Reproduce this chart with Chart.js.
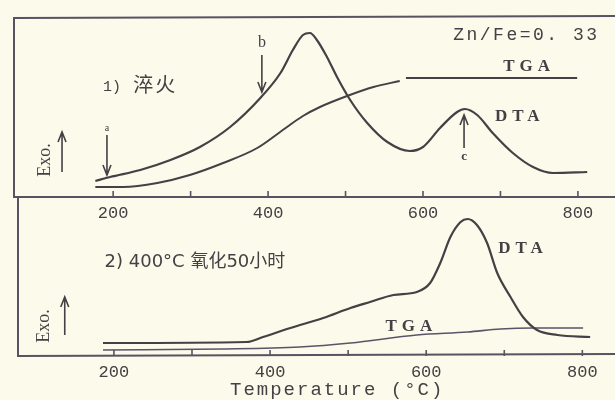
<!DOCTYPE html>
<html>
<head>
<meta charset="utf-8">
<script src="https://cdn.jsdelivr.net/npm/chart.js@4.4.0/dist/chart.umd.min.js"></script>
<style>
  html, body { margin: 0; padding: 0; background: #fcfaea; }
  #wrap { position: relative; width: 615px; height: 400px; overflow: hidden; }
  canvas { position: absolute; left: 0; }
  #top-chart { top: 0; }
  #bottom-chart { top: 197px; }
</style>
</head>
<body>
<div id="wrap">
  <canvas id="top-chart" width="615" height="225"></canvas>
  <canvas id="bottom-chart" width="615" height="203"></canvas>
</div>
<script>
// tick labels and small tick marks (deg C)
const xLabels = [200, 400, 600, 800];
const tickMarks = [200, 300, 400, 500, 600, 700, 800];

// 1) quenched sample
const topDtaT = [177, 196, 235, 274, 312, 351, 390, 416, 432, 445, 454, 463, 476, 489, 506, 528, 554, 583, 600, 622, 644, 654, 670, 690, 716, 742, 768, 812];
const topDtaV = [16, 20, 27, 37, 50, 70, 99, 124, 147, 162, 164, 157, 140, 120, 97, 74, 55, 46, 50, 69, 85, 88, 82, 64, 44, 30, 24, 25];
// null = small break in the trace
const topTgaT = [177, 213, 257, 299, 342, 386, 419, 445, 467, 502, 536, 570, 574, 578, 799];
const topTgaV = [10, 10, 14, 22, 34, 49, 67, 81, 90, 101, 110, 116, null, 119, 119];

// 2) oxidised 50 h at 400 C
const botDtaT = [186, 370, 391, 426, 468, 503, 528, 558, 588, 605, 618, 631, 644, 653, 665, 678, 691, 708, 724, 742, 768, 810];
const botDtaV = [13, 14, 19, 28, 38, 48, 54, 61, 64, 73, 93, 119, 134, 137, 131, 113, 83, 59, 39, 26, 21, 19];
const botTgaT = [186, 340, 438, 503, 588, 653, 695, 737, 801];
const botTgaV = [6, 7, 9, 13, 21, 24, 27, 28, 28];

const INK = '#454045';
const FRAME = '#5a5262';
const MONO = '"Liberation Mono", monospace';
const SERIF = '"Liberation Serif", serif';
const CJK = '"DejaVu Sans", "Noto Sans CJK SC", sans-serif';

function pts(ts, vs){ return ts.map((t, i) => ({ x: t, y: vs[i] })); }

function lineSet(ts, vs, width, color){
  return {
    data: pts(ts, vs),
    borderColor: color || INK,
    borderWidth: width,
    pointRadius: 0,
    fill: false,
    spanGaps: false,
    cubicInterpolationMode: 'monotone'
  };
}

function xy(chart, t, v){
  return [chart.scales.x.getPixelForValue(t), chart.scales.y.getPixelForValue(v)];
}

function label(chart, t, v, str, font, align, spacing){
  const ctx = chart.ctx;
  const [x, y] = xy(chart, t, v);
  ctx.save();
  ctx.font = font;
  ctx.fillStyle = INK;
  ctx.textAlign = align || 'left';
  ctx.textBaseline = 'middle';
  ctx.letterSpacing = (spacing || 0) + 'px';
  ctx.fillText(str, x, y);
  ctx.restore();
}

function exo(chart, t, v){
  const ctx = chart.ctx;
  const [x, y] = xy(chart, t, v);
  ctx.save();
  ctx.translate(x, y);
  ctx.rotate(-Math.PI / 2);
  ctx.font = '18px ' + SERIF;
  ctx.fillStyle = INK;
  ctx.textAlign = 'center';
  ctx.textBaseline = 'middle';
  ctx.fillText('Exo.', 0, 0);
  ctx.restore();
}

// vertical arrow from v1 to v2, head at v2
function arrow(chart, t, v1, v2){
  const ctx = chart.ctx;
  const [x, y1] = xy(chart, t, v1);
  const y2 = chart.scales.y.getPixelForValue(v2);
  const dir = y2 > y1 ? 1 : -1;
  ctx.save();
  ctx.strokeStyle = INK;
  ctx.lineWidth = 1.6;
  ctx.beginPath();
  ctx.moveTo(x, y1); ctx.lineTo(x, y2);
  ctx.moveTo(x - 4, y2 - dir * 10); ctx.lineTo(x, y2); ctx.lineTo(x + 4, y2 - dir * 10);
  ctx.stroke();
  ctx.restore();
}

function drawTicks(chart){
  const ctx = chart.ctx;
  const a = chart.chartArea;
  ctx.save();
  ctx.strokeStyle = FRAME;
  ctx.lineWidth = 1.6;
  tickMarks.forEach(t => {
    const x = chart.scales.x.getPixelForValue(t);
    ctx.beginPath();
    ctx.moveTo(x, a.bottom); ctx.lineTo(x, a.bottom - 6);
    ctx.stroke();
  });
  ctx.restore();
}

const topDecor = {
  id: 'topDecor',
  afterDraw(chart){
    const ctx = chart.ctx;
    const a = chart.chartArea;
    ctx.save();
    ctx.strokeStyle = FRAME;
    ctx.lineWidth = 2;
    ctx.beginPath();
    ctx.moveTo(chart.width, a.top + 1); ctx.lineTo(a.left, a.top + 3);
    ctx.lineTo(a.left, a.bottom);
    ctx.lineTo(chart.width, a.bottom);
    ctx.stroke();
    ctx.restore();
    drawTicks(chart);

    label(chart, 639, 162, 'Zn/Fe=0. 33', '18px ' + MONO, 'left', 2.5);
    label(chart, 737, 130, 'TGA', 'bold 17px ' + SERIF, 'center', 5);
    label(chart, 725, 80, 'DTA', 'bold 17px ' + SERIF, 'center', 5);
    label(chart, 187, 110, '1)', '15px ' + MONO, 'left', 0);
    label(chart, 226, 110, '淬火', '20px ' + CJK, 'left', 2);
    label(chart, 192, 69, 'a', '10px ' + SERIF, 'center', 0);
    label(chart, 392, 154, 'b', '16px ' + SERIF, 'center', 0);
    label(chart, 653, 40, 'c', 'bold 13px ' + SERIF, 'center', 0);
    arrow(chart, 192, 62, 22);
    arrow(chart, 392, 142, 105);
    arrow(chart, 653, 49, 82);
    exo(chart, 112, 37);
    arrow(chart, 134, 25, 65);
  }
};

const bottomDecor = {
  id: 'bottomDecor',
  afterDraw(chart){
    const ctx = chart.ctx;
    const a = chart.chartArea;
    ctx.save();
    ctx.strokeStyle = FRAME;
    ctx.lineWidth = 2;
    ctx.beginPath();
    ctx.moveTo(a.left + 4, 0); ctx.lineTo(a.left + 4, a.bottom);
    ctx.lineTo(chart.width, a.bottom - 2);
    ctx.stroke();
    ctx.restore();
    drawTicks(chart);

    label(chart, 188, 94, '2) 400°C 氧化50小时', '18px ' + CJK, 'left', 0);
    label(chart, 724, 107, 'DTA', 'bold 17px ' + SERIF, 'center', 5);
    label(chart, 581, 29, 'TGA', 'bold 17px ' + SERIF, 'center', 5);
    exo(chart, 111, 30);
    arrow(chart, 137, 21, 59);

    // axis title
    const x = chart.scales.x.getPixelForValue(486);
    ctx.save();
    ctx.font = '19px ' + MONO;
    ctx.fillStyle = INK;
    ctx.textAlign = 'center';
    ctx.textBaseline = 'middle';
    ctx.letterSpacing = '2px';
    ctx.fillText('Temperature (°C)', x, a.bottom + 34);
    ctx.restore();
  }
};

function makeOptions(xMin, xMax, yMax, padTop, axisHeight){
  return {
    responsive: false,
    animation: false,
    devicePixelRatio: 1,
    layout: { padding: { left: 14, right: 3, top: padTop, bottom: 0 } },
    plugins: { legend: { display: false }, tooltip: { enabled: false } },
    scales: {
      x: {
        type: 'linear', min: xMin, max: xMax,
        afterBuildTicks: s => { s.ticks = xLabels.map(v => ({ value: v })); },
        afterFit: s => { s.height = axisHeight; },
        grid: { display: false, drawTicks: false },
        border: { display: false },
        ticks: { color: INK, font: { family: MONO, size: 17 }, padding: 6, maxRotation: 0, autoSkip: false }
      },
      y: { display: false, min: 0, max: yMax }
    }
  };
}

document.addEventListener('DOMContentLoaded', () => {
  new Chart(document.getElementById('top-chart'), {
    type: 'line',
    data: { datasets: [lineSet(topDtaT, topDtaV, 2.2), lineSet(topTgaT, topTgaV, 2)] },
    options: makeOptions(72, 844, 182, 15, 28),
    plugins: [topDecor]
  });
  new Chart(document.getElementById('bottom-chart'), {
    type: 'line',
    data: { datasets: [lineSet(botDtaT, botDtaV, 2.2), lineSet(botTgaT, botTgaV, 1.6, '#5e5268')] },
    options: makeOptions(72, 838, 159, 0, 44),
    plugins: [bottomDecor]
  });
});
</script>
</body>
</html>
